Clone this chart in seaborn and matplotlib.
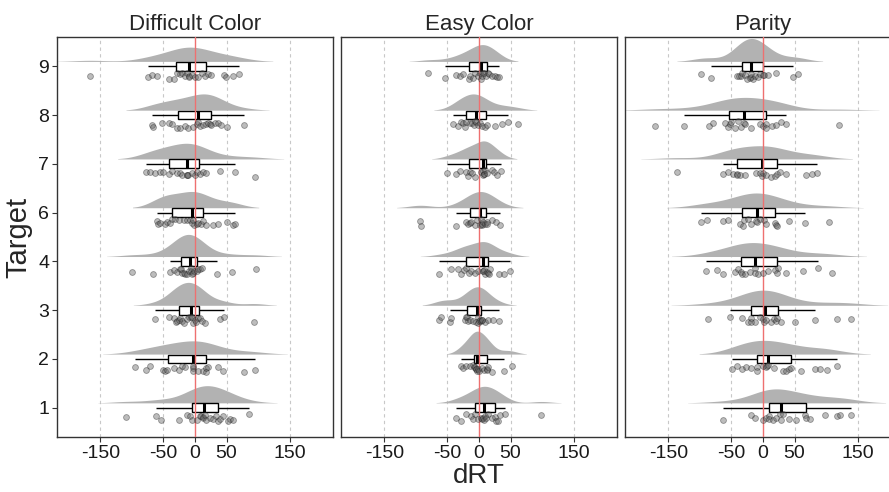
import numpy as np
import pandas as pd
import matplotlib
matplotlib.use("Agg")
import matplotlib.pyplot as plt
import matplotlib.transforms as mtransforms
import seaborn as sns

tasks = ["Difficult Color", "Easy Color", "Parity"]
targets = ["9", "8", "7", "6", "4", "3", "2", "1"]
x_ticks = [-150, -50, 0, 50, 150]
x_tick_labels = ["-150", "-50", "0", "50", "150"]
grid_lines = [-150, -50, 50, 150]

# dRT per subject
# Difficult Color
dc_9 = [-166, -74, -68, -61, -42, -34, -29, -24, -20, -16, -12, -9, -9, -5, 0, 5, 11, 16, 21, 26, 46, 49, 61, 70]
dc_8 = [-69, -66, -52, -42, -37, -29, -24, -16, -11, -3, 3, 5, 8, 13, 17, 21, 24, 26, 32, 37, 42, 50, 77]
dc_7 = [-77, -72, -63, -55, -50, -42, -37, -29, -24, -20, -13, -12, -11, -5, 0, 3, 8, 13, 18, 39, 63, 95]
dc_6 = [-61, -58, -55, -48, -45, -40, -36, -32, -25, -18, -13, -8, -5, -3, -2, 3, 5, 10, 13, 18, 29, 37, 50, 61, 63]
dc_4 = [-100, -66, -40, -34, -29, -24, -22, -20, -18, -16, -13, -9, -7, -6, -5, -3, -1, 3, 5, 8, 11, 35, 59, 97]
dc_3 = [-63, -42, -34, -30, -28, -26, -24, -21, -18, -13, -9, -7, -5, -3, 0, 2, 5, 8, 11, 16, 40, 46, 94]
dc_2 = [-95, -77, -71, -50, -48, -45, -34, -26, -21, -16, -3, -3, -3, 5, 13, 17, 18, 21, 37, 45, 77, 95]
dc_1 = [-109, -62, -54, -25, -12, -8, -4, 3, 8, 10, 13, 13, 16, 18, 24, 29, 34, 36, 40, 45, 52, 55, 61, 85]

# Easy Color
ec_9 = [-81, -54, -36, -30, -25, -16, -14, -9, -6, -1, 2, 3, 4, 6, 8, 11, 14, 16, 20, 25, 29, 32]
ec_8 = [-42, -33, -29, -25, -23, -20, -14, -11, -8, -6, -5, -2, 2, 5, 10, 12, 25, 36, 46, 62]
ec_7 = [-50, -36, -30, -20, -17, -14, -11, -6, 3, 7, 7, 8, 8, 10, 12, 20, 24, 28, 35]
ec_6 = [-94, -92, -36, -20, -17, -14, -12, -6, -3, 1, 3, 4, 5, 7, 10, 12, 13, 20, 27, 33]
ec_4 = [-63, -44, -33, -28, -24, -20, -16, -12, -6, -1, 6, 7, 8, 10, 12, 14, 16, 18, 31, 40, 49]
ec_3 = [-63, -61, -46, -44, -22, -20, -19, -17, -14, -9, -4, -1, -1, 0, 2, 3, 4, 5, 10, 15, 23, 32]
ec_2 = [-29, -25, -20, -14, -9, -8, -7, -5, -4, -3, -2, 0, 4, 8, 12, 13, 15, 20, 40, 53]
ec_1 = [-37, -29, -20, -12, -9, -6, -1, 3, 5, 7, 8, 9, 11, 15, 20, 25, 27, 30, 33, 41, 99]

# Parity
p_9 = [-98, -82, -42, -38, -35, -33, -29, -25, -21, -19, -19, -16, -12, -8, -5, 0, 2, 8, 21, 48, 56]
p_8 = [-171, -126, -85, -80, -61, -56, -52, -50, -45, -40, -35, -30, -29, -19, -5, 0, 4, 5, 15, 21, 29, 36, 121]
p_7 = [-137, -64, -56, -48, -42, -41, -37, -29, -11, -5, -2, 0, 5, 13, 19, 22, 27, 37, 69, 77, 85]
p_6 = [-99, -89, -64, -56, -37, -32, -30, -24, -19, -11, -9, -5, 1, 5, 19, 20, 22, 42, 66, 105]
p_4 = [-90, -73, -64, -45, -40, -35, -33, -28, -21, -13, -12, -8, 0, 8, 19, 22, 24, 37, 64, 88, 109]
p_3 = [-87, -52, -33, -24, -19, -19, -13, -5, 0, 2, 5, 13, 17, 21, 23, 29, 50, 82, 117, 139]
p_2 = [-49, -42, -33, -27, -19, -10, -10, 0, 5, 7, 8, 17, 32, 37, 42, 45, 61, 82, 91, 101, 118]
p_1 = [-64, -19, -13, 0, 5, 9, 10, 16, 21, 27, 28, 32, 42, 53, 66, 68, 75, 99, 118, 122, 139]

groups = {
    "Difficult Color": [dc_9, dc_8, dc_7, dc_6, dc_4, dc_3, dc_2, dc_1],
    "Easy Color": [ec_9, ec_8, ec_7, ec_6, ec_4, ec_3, ec_2, ec_1],
    "Parity": [p_9, p_8, p_7, p_6, p_4, p_3, p_2, p_1],
}

rows = []
for task in tasks:
    for tgt, vals in zip(targets, groups[task]):
        for v in vals:
            rows.append((task, tgt, v))
df = pd.DataFrame(rows, columns=["task", "Target", "dRT"])

sns.set_style("white")
plt.rcParams["font.family"] = ["Liberation Sans", "DejaVu Sans"]
np.random.seed(3)

fig = plt.figure(figsize=(8.89, 4.92), dpi=100)
lefts = [57, 341, 625]
axes = [fig.add_axes([l / 889, 55 / 492, 276 / 889, 400 / 492]) for l in lefts]

for i, (ax, task) in enumerate(zip(axes, tasks)):
    sub = df[df["task"] == task]

    # clouds: keep only the upper half of each violin, nudged up a little
    n0 = len(ax.collections)
    sns.violinplot(data=sub, x="dRT", y="Target", order=targets, orient="h",
                   inner=None, density_norm="area", cut=2, width=0.94,
                   color="#B2B2B2", saturation=1, linewidth=0, ax=ax)
    for art in ax.collections[n0:]:
        halves = []
        for p in art.get_paths():
            v = p.vertices.copy()
            centre = np.round(v[:, 1].mean())
            v[:, 1] = np.minimum(v[:, 1], centre)
            halves.append(v)
        art.set_verts(halves)
        art.set_transform(mtransforms.Affine2D().translate(0, -0.1) + ax.transData)
        art.set_zorder(1)

    sns.boxplot(data=sub, x="dRT", y="Target", order=targets, orient="h",
                width=0.18, showfliers=False, showcaps=False, color="white",
                linecolor="black", linewidth=1, saturation=1,
                medianprops={"linewidth": 2.2}, ax=ax)

    # rain: jittered points below the box
    n1 = len(ax.collections)
    sns.stripplot(data=sub, x="dRT", y="Target", order=targets, orient="h",
                  jitter=0.07, size=4.2, color="#606060", alpha=0.42,
                  edgecolor="#202020", linewidth=0.6, ax=ax)
    for art in ax.collections[n1:]:
        art.set_offset_transform(mtransforms.Affine2D().translate(0, 0.2) + ax.transData)
        art.set_zorder(6)

    for g in grid_lines:
        ax.axvline(g, color="#C8C8C8", lw=0.8, ls=(0, (3, 3)), zorder=0.5)
    ax.axvline(0, color="#EE7070", lw=1.0, zorder=5)

    ax.set_xlim(-219, 219)
    ax.set_ylim(7.6, -0.6)
    ax.set_xticks(x_ticks)
    ax.set_xticklabels(x_tick_labels)
    ax.set_title(task, fontsize=16, pad=5)
    ax.set_xlabel("")
    ax.set_ylabel("")
    for s in ax.spines.values():
        s.set_visible(True)
        s.set_color("#333333")
        s.set_linewidth(1)
    ax.tick_params(axis="x", bottom=True, length=3.5, width=0.8, color="#333333",
                   labelsize=14, pad=2, labelcolor="#1A1A1A")
    if i == 0:
        ax.tick_params(axis="y", left=True, length=3.5, width=0.8, color="#333333",
                       labelsize=14, pad=2, labelcolor="#1A1A1A")
    else:
        ax.tick_params(axis="y", left=False, labelleft=False)

axes[0].set_ylabel("Target", fontsize=21, labelpad=4)
axes[1].set_xlabel("dRT", fontsize=20, labelpad=1)

fig.savefig("out.png", dpi=100)
